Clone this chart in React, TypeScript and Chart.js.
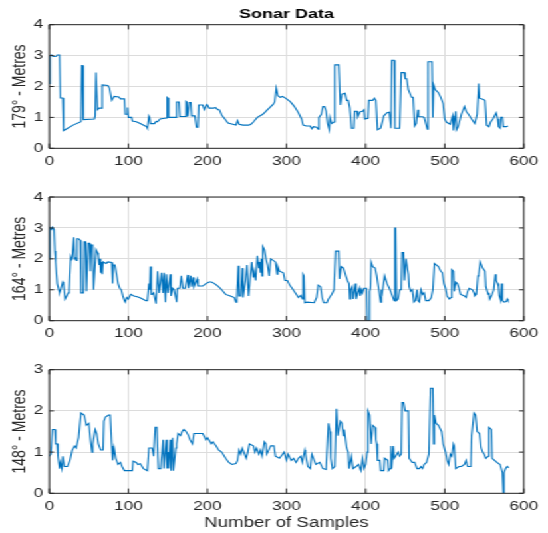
import React, { useEffect, useRef } from "react";
import { Chart, registerables } from "chart.js";

Chart.register(...registerables);

// ---------- data (sample index, metres) ----------
const sonar179: [number, number][] = [
  [0,2.1],[1,3.0],[3,3.02],[5,2.97],[9,2.98],[10,3.02],[13,3.02],[14,1.63],[17,1.63],[18,0.57],[20,0.6],[30,0.75],[40,0.86],[41,2.68],[42,2.68],[43,0.93],[57,0.95],[58,1.05],[59,2.45],[60,2.45],[61,1.25],[63,1.3],[66,1.3],[67,2.05],[74,2.03],[76,1.95],[79,1.55],[82,1.68],[88,1.66],[90,1.6],[95,1.6],[96,1.1],[98,1.1],[99,1.32],[100,1.0],[104,1.0],[105,0.88],[110,0.86],[115,0.8],[120,0.74],[123,0.7],[124,0.65],[126,1.05],[127,1.0],[128,0.8],[133,0.8],[135,0.87],[137,0.86],[140,0.95],[148,0.98],[149,1.65],[150,1.63],[151,1.0],[160,1.0],[161,1.5],[164,1.5],[165,1.03],[172,1.03],[173,1.52],[174,1.5],[175,1.03],[177,1.48],[179,1.48],[180,1.05],[184,1.05],[186,0.68],[188,0.68],[189,1.4],[194,1.4],[196,1.25],[199,1.42],[200,1.4],[202,1.3],[208,1.3],[210,1.32],[213,1.25],[215,1.25],[218,1.08],[222,0.95],[226,0.82],[232,0.78],[236,0.75],[238,0.9],[240,0.78],[245,0.75],[252,0.75],[255,0.78],[258,0.85],[263,1.0],[270,1.1],[276,1.25],[283,1.42],[285,1.5],[287,1.95],[289,1.7],[292,1.65],[295,1.68],[300,1.6],[305,1.5],[310,1.35],[315,1.15],[319,0.95],[321,0.75],[325,0.72],[330,0.72],[332,0.63],[334,0.7],[338,0.68],[340,0.62],[341,1.0],[344,1.1],[346,1.35],[348,1.35],[350,1.2],[352,0.8],[354,0.6],[355,1.0],[357,0.8],[360,0.85],[361,2.7],[366,2.7],[368,1.4],[370,1.75],[374,1.78],[376,1.55],[378,1.55],[380,1.3],[382,0.65],[385,0.65],[386,1.2],[389,1.2],[390,1.02],[393,1.18],[396,1.2],[398,1.25],[399,0.95],[403,0.97],[404,1.55],[409,1.55],[411,1.62],[413,1.55],[415,0.6],[419,0.65],[421,0.85],[423,1.05],[427,1.15],[430,1.17],[432,0.65],[433,2.85],[436,2.85],[437,0.65],[443,0.65],[445,2.45],[449,2.45],[450,2.25],[452,2.25],[454,1.9],[458,1.65],[460,1.65],[462,0.72],[464,0.8],[466,1.25],[467,1.02],[472,1.02],[474,1.0],[478,0.62],[479,2.8],[484,2.8],[485,1.0],[486,2.05],[488,1.9],[492,1.8],[495,1.65],[498,1.45],[500,0.95],[502,0.85],[507,0.78],[510,1.05],[511,0.58],[514,1.2],[515,0.6],[517,0.7],[521,1.1],[525,1.35],[527,1.2],[530,1.1],[534,0.95],[538,0.8],[541,1.1],[543,2.1],[544,1.62],[549,1.58],[551,1.55],[553,0.75],[556,0.7],[558,0.85],[561,0.95],[565,1.15],[567,0.95],[568,0.7],[570,0.65],[571,1.0],[573,1.0],[574,0.7],[578,0.7],[580,0.72]
];

const sonar164: [number, number][] = [
  [0,2.0],[1,3.0],[3,2.95],[4,3.02],[6,2.95],[7,2.25],[8,1.9],[10,1.2],[12,1.0],[13,0.9],[15,1.05],[17,1.25],[18,1.2],[20,0.7],[22,0.8],[24,0.9],[25,1.0],[27,2.05],[28,1.95],[29,2.05],[31,2.7],[32,2.0],[33,2.05],[34,1.95],[35,2.65],[37,2.65],[39,2.6],[40,0.9],[43,0.9],[44,2.55],[46,2.55],[47,0.95],[48,0.95],[49,2.5],[51,2.5],[52,1.6],[53,2.45],[55,2.45],[56,1.0],[57,1.0],[59,2.3],[61,2.2],[62,2.1],[63,1.8],[64,2.0],[65,1.55],[66,1.9],[67,1.5],[68,1.9],[72,1.85],[74,1.9],[79,1.88],[80,1.2],[81,1.8],[83,1.8],[85,1.5],[87,1.2],[89,1.05],[91,1.0],[93,0.8],[95,0.65],[96,0.6],[98,0.75],[100,0.7],[103,0.85],[107,0.8],[110,0.78],[114,0.75],[118,0.7],[122,0.65],[124,0.65],[126,1.2],[127,1.0],[128,1.75],[129,0.85],[130,0.85],[132,0.9],[135,0.55],[137,1.6],[139,0.9],[142,1.55],[144,0.9],[145,1.55],[147,0.6],[148,1.5],[150,0.9],[153,1.5],[154,0.8],[156,1.05],[158,1.0],[161,0.6],[162,1.05],[165,1.05],[167,1.45],[169,1.05],[172,1.05],[175,1.48],[176,1.05],[179,1.45],[180,1.1],[182,1.4],[183,1.1],[187,1.35],[188,1.12],[194,1.12],[198,1.2],[202,1.25],[205,1.25],[209,1.2],[214,1.1],[218,1.0],[223,0.85],[229,0.8],[234,0.75],[236,0.6],[237,0.7],[239,1.78],[240,0.8],[242,0.8],[244,1.7],[245,0.75],[248,1.3],[250,1.8],[252,0.8],[256,1.9],[258,1.4],[259,1.6],[261,1.3],[263,2.1],[265,1.7],[266,1.9],[267,1.55],[268,2.0],[269,1.45],[270,2.4],[272,2.3],[274,2.0],[276,1.8],[278,1.45],[280,2.0],[286,1.9],[288,1.5],[289,1.75],[291,1.6],[296,1.55],[298,1.3],[301,1.3],[304,1.15],[307,1.05],[311,0.9],[315,0.75],[318,0.82],[320,0.7],[321,1.5],[322,1.45],[323,0.58],[326,0.6],[335,0.58],[338,0.75],[340,1.15],[343,1.1],[345,0.75],[347,0.58],[351,0.58],[353,0.7],[357,0.85],[360,1.0],[362,2.25],[366,2.25],[367,1.35],[369,1.75],[372,1.7],[375,1.45],[377,1.3],[379,1.2],[380,0.7],[381,1.0],[383,1.1],[384,0.7],[387,1.2],[388,0.7],[390,0.9],[392,1.05],[393,0.8],[395,1.0],[396,0.9],[398,1.05],[401,1.05],[402,0.0],[404,0.0],[405,0.95],[406,1.05],[407,1.9],[409,1.75],[412,1.7],[414,1.45],[417,0.95],[419,0.6],[420,1.0],[421,0.9],[424,1.45],[425,1.45],[427,1.2],[430,1.05],[433,0.85],[436,0.65],[437,3.0],[438,3.0],[439,0.65],[441,0.7],[443,1.0],[445,1.0],[446,2.2],[448,2.2],[449,1.3],[451,2.0],[452,2.0],[454,1.5],[455,1.1],[457,0.95],[459,1.0],[461,0.6],[463,0.65],[465,1.0],[466,0.65],[468,0.6],[470,1.0],[472,0.85],[474,0.9],[476,0.65],[480,0.65],[483,0.75],[485,1.0],[487,1.85],[492,1.75],[495,1.6],[497,1.55],[499,1.2],[501,1.05],[503,0.8],[506,0.7],[508,0.75],[509,1.65],[511,1.6],[512,0.95],[514,1.25],[516,1.2],[518,1.05],[520,0.85],[525,0.8],[527,0.75],[529,0.95],[531,1.05],[535,1.0],[537,0.9],[538,0.8],[540,0.85],[542,1.45],[543,1.5],[545,1.9],[546,1.9],[548,1.7],[551,1.6],[552,1.1],[555,0.85],[556,0.9],[557,0.7],[560,0.85],[562,1.0],[564,1.5],[565,1.3],[567,1.2],[568,1.1],[569,0.8],[571,0.65],[572,1.2],[573,0.65],[575,0.6],[578,0.62],[579,0.7],[580,0.65]
];

const sonar148: [number, number][] = [
  [0,0.9],[2,0.95],[4,1.55],[7,1.55],[8,1.2],[10,1.2],[11,0.9],[13,0.6],[14,0.75],[16,0.6],[17,0.9],[19,0.65],[23,0.65],[26,0.8],[29,1.05],[32,1.15],[34,1.1],[37,1.35],[40,1.95],[44,1.9],[47,1.65],[50,1.7],[52,1.3],[54,1.0],[55,1.2],[58,1.55],[60,1.45],[62,1.2],[65,1.05],[68,1.05],[69,1.75],[71,1.85],[75,1.9],[77,1.9],[79,1.15],[80,0.8],[82,1.1],[84,0.85],[87,0.7],[90,0.75],[92,0.65],[95,0.55],[105,0.55],[106,0.78],[110,0.75],[112,0.7],[115,0.72],[119,0.6],[124,0.55],[126,1.1],[130,1.1],[132,0.9],[134,1.6],[136,1.6],[138,0.6],[141,0.6],[144,1.3],[145,0.6],[148,1.3],[149,0.6],[150,1.0],[151,0.6],[153,1.3],[154,0.55],[156,1.35],[157,0.55],[160,1.1],[161,1.2],[163,1.45],[166,1.4],[168,1.5],[170,1.55],[173,1.5],[176,1.4],[178,1.3],[181,1.2],[183,1.45],[187,1.45],[194,1.45],[198,1.3],[200,1.35],[205,1.2],[207,1.25],[211,1.15],[214,1.05],[218,1.0],[223,0.85],[227,0.75],[231,0.7],[236,0.72],[238,0.8],[240,1.05],[242,0.95],[244,1.1],[249,0.85],[251,1.0],[253,1.2],[258,1.15],[260,1.0],[262,1.1],[265,0.95],[267,1.05],[269,0.9],[272,1.25],[274,1.2],[275,0.95],[280,1.15],[284,1.15],[286,0.9],[291,0.85],[295,0.95],[297,1.0],[300,0.8],[302,0.95],[306,0.8],[309,0.85],[312,0.75],[315,0.85],[318,0.9],[320,0.75],[323,1.05],[324,0.95],[327,0.65],[330,0.6],[332,0.95],[335,0.8],[337,0.7],[342,0.75],[346,0.6],[350,0.58],[353,1.7],[355,1.5],[356,0.85],[358,0.6],[361,0.65],[363,2.05],[365,1.4],[368,1.75],[370,1.7],[372,1.4],[373,1.55],[376,1.1],[378,1.0],[379,0.6],[382,0.9],[384,0.6],[388,0.65],[391,0.7],[394,0.55],[396,0.85],[398,0.6],[400,0.7],[402,1.0],[403,2.0],[405,1.9],[407,1.2],[409,1.65],[412,1.6],[413,1.3],[414,1.2],[415,0.8],[418,0.8],[419,0.55],[423,0.55],[424,0.85],[428,0.8],[429,0.55],[431,0.6],[432,1.15],[433,0.6],[435,1.15],[436,0.85],[438,0.9],[441,1.0],[443,0.9],[445,0.95],[446,2.2],[448,2.2],[450,2.0],[454,2.0],[455,0.85],[459,0.75],[462,0.75],[465,0.6],[468,0.6],[470,0.65],[472,0.6],[474,0.7],[477,0.75],[480,0.95],[482,2.55],[485,2.55],[486,1.2],[487,1.9],[489,1.7],[492,1.65],[496,1.5],[498,1.2],[501,1.0],[503,0.8],[505,0.7],[507,0.95],[509,0.9],[511,1.2],[512,1.15],[514,0.6],[518,0.65],[521,0.65],[525,0.7],[527,0.8],[529,0.65],[533,0.65],[534,1.4],[537,1.95],[539,1.9],[541,1.5],[544,1.45],[546,1.1],[548,1.0],[550,0.95],[552,0.85],[555,0.9],[556,1.6],[559,1.55],[560,0.85],[563,0.8],[566,0.75],[570,0.7],[573,0.5],[574,0.0],[575,0.5],[577,0.6],[579,0.65],[581,0.62]
];

const panelLabels = ["179° - Metres", "164° - Metres", "148° - Metres"];
const panelYMax = [4, 4, 3];
const X_MIN = 0;
const X_MAX = 600;
const X_STEP = 100;
const Y_STEP = 1;
const CHART_TITLE = "Sonar Data";
const X_TITLE = "Number of Samples";

// ---------- layout ----------
const CW = 412;                 // raw canvas width
const SX = 548 / CW;            // horizontal stretch
const PLOT_LEFT = 49.3 / SX;
const PLOT_RIGHT = 523.8 / SX;
const FONT = "'Liberation Sans', Arial, Helvetica, sans-serif";
const LINE_COLOR = "#0072BD";
const AXIS_COLOR = "#262626";

const panels = [
  { data: sonar179, top: 0, height: 175, padTop: 0, xh: 26.7, title: true, xTitle: false },
  { data: sonar164, top: 175, height: 175, padTop: 22, xh: 29.3, title: false, xTitle: false },
  { data: sonar148, top: 350, height: 183, padTop: 19.7, xh: 39.7, title: false, xTitle: true },
];

const boxPlugin = {
  id: "matlabBox",
  afterDraw(chart: any) {
    const { ctx, chartArea: a, scales } = chart;
    ctx.save();
    ctx.strokeStyle = AXIS_COLOR;
    ctx.lineWidth = 1;
    ctx.beginPath();
    ctx.rect(a.left, a.top, a.right - a.left, a.bottom - a.top);
    const xs = scales.x;
    for (const t of xs.ticks) {
      const px = xs.getPixelForValue(t.value);
      ctx.moveTo(px, a.bottom);
      ctx.lineTo(px, a.bottom - 4.7);
      ctx.moveTo(px, a.top);
      ctx.lineTo(px, a.top + 4.7);
    }
    const ys = scales.y;
    for (const t of ys.ticks) {
      const py = ys.getPixelForValue(t.value);
      ctx.moveTo(a.left, py);
      ctx.lineTo(a.left + 3.5, py);
      ctx.moveTo(a.right, py);
      ctx.lineTo(a.right - 3.5, py);
    }
    ctx.stroke();
    ctx.restore();
  },
};

function Panel({ idx }: { idx: number }) {
  const ref = useRef<HTMLCanvasElement | null>(null);
  const p = panels[idx];
  useEffect(() => {
    if (!ref.current) return;
    const chart = new Chart(ref.current, {
      type: "line",
      data: {
        datasets: [
          {
            data: p.data.map(([x, y]) => ({ x, y })),
            borderColor: LINE_COLOR,
            borderWidth: 1.1,
            pointRadius: 0,
            tension: 0,
            fill: false,
          },
        ],
      },
      plugins: [boxPlugin],
      options: {
        responsive: false,
        animation: false,
        devicePixelRatio: 1,
        events: [],
        layout: { padding: { left: 0, right: CW - PLOT_RIGHT, top: p.padTop, bottom: 0 } },
        plugins: {
          legend: { display: false },
          tooltip: { enabled: false },
          title: {
            display: p.title,
            text: CHART_TITLE,
            fullSize: false,
            color: "#000000",
            font: { family: FONT, size: 13.5, weight: "bold", lineHeight: 1.2 },
            padding: { top: 5.9, bottom: 2.6 },
          },
        },
        scales: {
          x: {
            type: "linear",
            min: X_MIN,
            max: X_MAX,
            ticks: {
              stepSize: X_STEP,
              color: AXIS_COLOR,
              font: { family: FONT, size: 13 },
              padding: 5,
              maxRotation: 0,
            },
            grid: { color: "#dcdcdc", lineWidth: 1, drawTicks: false },
            border: { display: false },
            title: {
              display: p.xTitle,
              text: X_TITLE,
              color: AXIS_COLOR,
              font: { family: FONT, size: 14 },
              padding: { top: 0, bottom: 1.8 },
            },
            afterFit: (s: any) => {
              s.height = p.xh;
            },
          },
          y: {
            type: "linear",
            min: 0,
            max: panelYMax[idx],
            ticks: {
              stepSize: Y_STEP,
              color: AXIS_COLOR,
              font: { family: FONT, size: 13 },
              padding: 4.5,
            },
            grid: { color: "#dcdcdc", lineWidth: 1, drawTicks: false },
            border: { display: false },
            title: {
              display: true,
              text: panelLabels[idx],
              color: AXIS_COLOR,
              font: { family: FONT, size: 14 },
              padding: { top: 6.8, bottom: 0 },
            },
            afterFit: (s: any) => {
              s.width = PLOT_LEFT;
            },
          },
        },
      },
    } as any);
    return () => chart.destroy();
  }, [idx]);
  return (
    <canvas
      ref={ref}
      width={CW}
      height={p.height}
      style={{ position: "absolute", left: 0, top: p.top, width: CW, height: p.height, display: "block" }}
    />
  );
}

export default function App() {
  return (
    <div
      style={{
        position: "absolute",
        left: 0,
        top: 0,
        width: CW,
        height: 533,
        background: "#ffffff",
        transform: `scaleX(${SX})`,
        transformOrigin: "0 0",
      }}
    >
      {panels.map((_, i) => (
        <Panel key={i} idx={i} />
      ))}
    </div>
  );
}
